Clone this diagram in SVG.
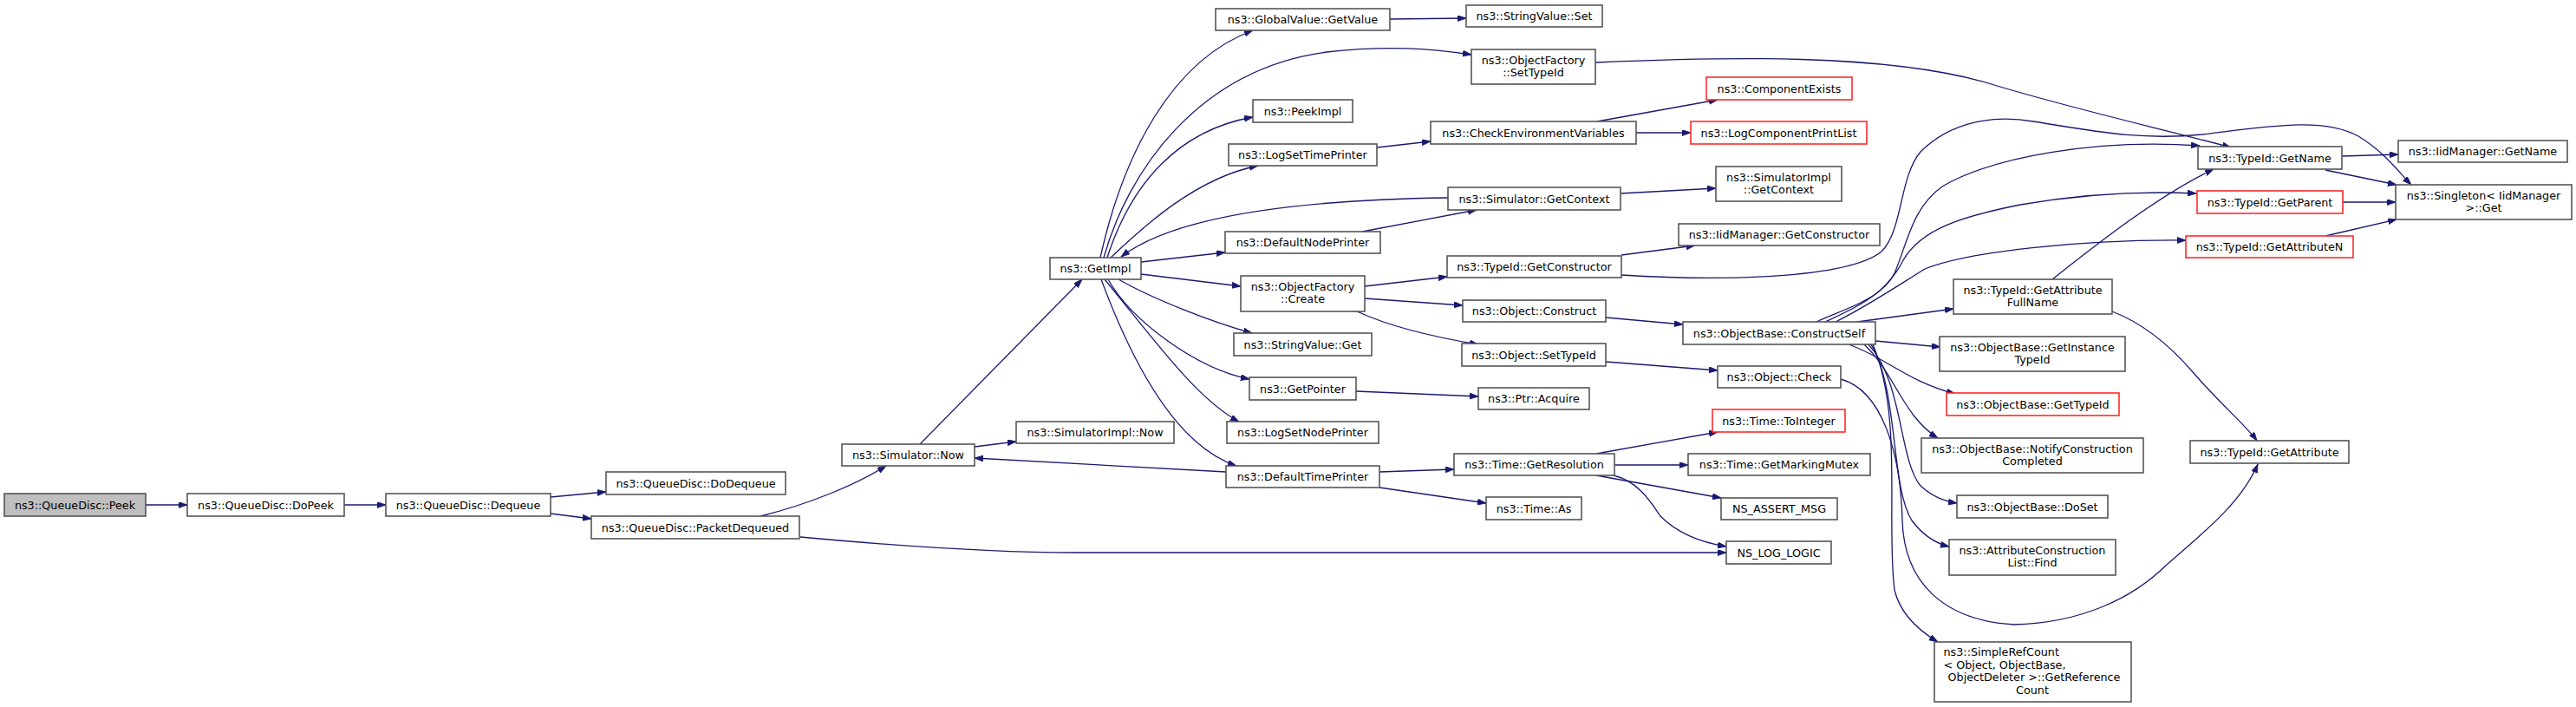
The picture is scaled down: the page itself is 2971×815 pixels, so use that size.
<svg xmlns="http://www.w3.org/2000/svg" width="2971" height="815" viewBox="0 0 2971 815">
<style>
.n rect{fill:#fff;stroke:#555;stroke-width:1.6}
.n.r rect{stroke:#ff2a2a}
.n.root rect{fill:#bfbfbf}
.n text{font-family:"DejaVu Sans",sans-serif;font-size:12.75px;fill:#000;text-anchor:middle}
.n text.l{text-anchor:start}
#edges path{fill:none;stroke:#191970;stroke-width:1.3;marker-end:url(#ah)}
</style>
<defs>
<marker id="ah" markerUnits="userSpaceOnUse" markerWidth="11" markerHeight="8" refX="10" refY="3.5" orient="auto">
<path d="M0,0 L10,3.5 L0,7 Z" fill="#191970" stroke="#191970" stroke-width="0.8"/>
</marker>
</defs>
<rect width="2971" height="815" fill="#fff"/>
<g id="edges">
<path d="M168,582 L216,582"/>
<path d="M397,582 L445,582"/>
<path d="M635,573 L699,567"/>
<path d="M635,592 L682,598"/>
<path d="M877,595 C930,582 985,560 1022,537"/>
<path d="M923,619 C1030,629 1140,637 1240,637 L1991,637"/>
<path d="M1124,515 L1172,509"/>
<path d="M1061,512 L1248,322"/>
<path d="M1414,544 L1124,528"/>
<path d="M1269,297 C1295,180 1350,70 1445,35"/>
<path d="M1603,22 L1691,21"/>
<path d="M1273,297 C1300,200 1380,80 1530,60 C1600,52 1650,56 1697,63"/>
<path d="M1277,297 C1305,210 1360,150 1445,135"/>
<path d="M1281,297 C1320,260 1380,205 1451,191"/>
<path d="M1670,228 C1520,230 1360,245 1293,296"/>
<path d="M1571,267 L1703,242"/>
<path d="M1316,302 L1413,291"/>
<path d="M1316,316 L1431,330"/>
<path d="M1290,322 C1330,345 1400,372 1444,384"/>
<path d="M1278,322 C1305,370 1380,425 1441,437"/>
<path d="M1274,322 C1330,390 1380,460 1429,486"/>
<path d="M1270,322 C1310,430 1360,515 1426,537"/>
<path d="M1588,170 L1650,163"/>
<path d="M1842,140 L1981,115"/>
<path d="M1887,153 L1950,153"/>
<path d="M1869,223 L1979,217"/>
<path d="M1574,330 L1669,319"/>
<path d="M1574,344 L1687,352"/>
<path d="M1565,359 C1600,375 1650,388 1705,397"/>
<path d="M1564,451 L1705,457"/>
<path d="M1591,544 L1677,541"/>
<path d="M1591,562 L1714,580"/>
<path d="M1840,72 C1980,66 2180,60 2300,98 C2400,128 2500,150 2573,170"/>
<path d="M1870,294 L1955,283"/>
<path d="M1870,317 C1980,324 2130,322 2170,290 C2195,265 2190,205 2215,175 C2250,140 2300,132 2345,140 C2420,152 2470,162 2540,155 C2620,145 2680,135 2720,157 C2750,175 2768,200 2781,213"/>
<path d="M2095,371 C2130,355 2170,345 2185,315 C2200,280 2205,240 2240,215 C2300,180 2420,160 2537,168"/>
<path d="M2105,371 C2140,355 2175,340 2195,300 C2215,265 2260,250 2330,236 C2400,224 2470,220 2533,223"/>
<path d="M2117,371 C2150,355 2180,335 2220,310 C2270,290 2400,276 2521,277"/>
<path d="M2142,371 L2253,356"/>
<path d="M2163,393 L2238,400"/>
<path d="M2132,397 C2175,412 2200,440 2255,454"/>
<path d="M2150,397 C2185,430 2195,480 2235,505"/>
<path d="M2155,397 C2195,440 2190,530 2215,560 C2228,572 2243,578 2257,580"/>
<path d="M2158,397 C2190,450 2180,560 2205,600 C2220,620 2235,627 2248,630"/>
<path d="M2160,397 C2195,480 2175,600 2185,680 C2192,710 2215,728 2235,740"/>
<path d="M2123,437 C2170,450 2192,520 2194,600 C2196,670 2240,715 2323,720 C2400,718 2460,690 2500,650 C2540,615 2585,580 2604,535"/>
<path d="M2436,359 C2470,372 2500,395 2530,430 C2560,465 2590,490 2603,508"/>
<path d="M2367,322 C2420,280 2490,225 2553,195"/>
<path d="M2701,180 L2766,178"/>
<path d="M2682,196 L2764,213"/>
<path d="M2702,233 L2763,233"/>
<path d="M2682,272 L2764,253"/>
<path d="M1852,366 L1941,374"/>
<path d="M1852,417 L1981,427"/>
<path d="M1841,523 L1981,498"/>
<path d="M1862,536 L1947,536"/>
<path d="M1841,548 L1985,574"/>
<path d="M1861,548 C1890,555 1905,580 1915,595 C1935,615 1960,625 1991,630"/>
</g>
<g id="n1" class="n root"><rect x="5" y="569" width="163" height="26"/><text x="86.5" y="586.5">ns3::QueueDisc::Peek</text></g>
<g id="n2" class="n"><rect x="216" y="569" width="181" height="26"/><text x="306.5" y="586.5">ns3::QueueDisc::DoPeek</text></g>
<g id="n3" class="n"><rect x="445" y="569" width="190" height="26"/><text x="540" y="586.5">ns3::QueueDisc::Dequeue</text></g>
<g id="n4" class="n"><rect x="699" y="544" width="207" height="26"/><text x="802.5" y="561.5">ns3::QueueDisc::DoDequeue</text></g>
<g id="n5" class="n"><rect x="682" y="595" width="240" height="26"/><text x="802" y="612.5">ns3::QueueDisc::PacketDequeued</text></g>
<g id="n6" class="n"><rect x="971" y="512" width="153" height="25"/><text x="1047.5" y="529">ns3::Simulator::Now</text></g>
<g id="n7" class="n"><rect x="1172" y="486" width="182" height="25"/><text x="1263" y="503">ns3::SimulatorImpl::Now</text></g>
<g id="n8" class="n"><rect x="1211" y="297" width="105" height="25"/><text x="1263.5" y="314">ns3::GetImpl</text></g>
<g id="n9" class="n"><rect x="1402" y="10" width="201" height="25"/><text x="1502.5" y="27">ns3::GlobalValue::GetValue</text></g>
<g id="n10" class="n"><rect x="1697" y="57" width="143" height="40"/><text x="1768.5" y="74">ns3::ObjectFactory</text><text x="1768.5" y="88">::SetTypeId</text></g>
<g id="n11" class="n"><rect x="1445" y="115" width="115" height="26"/><text x="1502.5" y="132.5">ns3::PeekImpl</text></g>
<g id="n12" class="n"><rect x="1417" y="166" width="171" height="25"/><text x="1502.5" y="183">ns3::LogSetTimePrinter</text></g>
<g id="n13" class="n"><rect x="1670" y="216" width="199" height="26"/><text x="1769.5" y="233.5">ns3::Simulator::GetContext</text></g>
<g id="n14" class="n"><rect x="1413" y="267" width="179" height="25"/><text x="1502.5" y="284">ns3::DefaultNodePrinter</text></g>
<g id="n15" class="n"><rect x="1431" y="318" width="143" height="41"/><text x="1502.5" y="335">ns3::ObjectFactory</text><text x="1502.5" y="349">::Create</text></g>
<g id="n16" class="n"><rect x="1423" y="384" width="159" height="26"/><text x="1502.5" y="401.5">ns3::StringValue::Get</text></g>
<g id="n17" class="n"><rect x="1441" y="435" width="123" height="26"/><text x="1502.5" y="452.5">ns3::GetPointer</text></g>
<g id="n18" class="n"><rect x="1415" y="486" width="175" height="25"/><text x="1502.5" y="503">ns3::LogSetNodePrinter</text></g>
<g id="n19" class="n"><rect x="1414" y="537" width="177" height="25"/><text x="1502.5" y="554">ns3::DefaultTimePrinter</text></g>
<g id="n20" class="n"><rect x="1691" y="6" width="157" height="25"/><text x="1769.5" y="23">ns3::StringValue::Set</text></g>
<g id="n21" class="n"><rect x="1650" y="140" width="237" height="26"/><text x="1768.5" y="157.5">ns3::CheckEnvironmentVariables</text></g>
<g id="n22" class="n r"><rect x="1968" y="89" width="168" height="26"/><text x="2052" y="106.5">ns3::ComponentExists</text></g>
<g id="n23" class="n r"><rect x="1950" y="140" width="203" height="26"/><text x="2051.5" y="157.5">ns3::LogComponentPrintList</text></g>
<g id="n24" class="n"><rect x="1979" y="192" width="145" height="40"/><text x="2051.5" y="209">ns3::SimulatorImpl</text><text x="2051.5" y="223">::GetContext</text></g>
<g id="n25" class="n"><rect x="1669" y="295" width="201" height="25"/><text x="1769.5" y="312">ns3::TypeId::GetConstructor</text></g>
<g id="n26" class="n"><rect x="1936" y="258" width="232" height="25"/><text x="2052" y="275">ns3::IidManager::GetConstructor</text></g>
<g id="n27" class="n"><rect x="1687" y="346" width="165" height="25"/><text x="1769.5" y="363">ns3::Object::Construct</text></g>
<g id="n28" class="n"><rect x="1686" y="396" width="166" height="26"/><text x="1769" y="413.5">ns3::Object::SetTypeId</text></g>
<g id="n29" class="n"><rect x="1705" y="447" width="128" height="25"/><text x="1769" y="464">ns3::Ptr::Acquire</text></g>
<g id="n30" class="n"><rect x="1677" y="523" width="185" height="25"/><text x="1769.5" y="540">ns3::Time::GetResolution</text></g>
<g id="n31" class="n"><rect x="1714" y="573" width="110" height="26"/><text x="1769" y="590.5">ns3::Time::As</text></g>
<g id="n32" class="n"><rect x="1941" y="371" width="222" height="26"/><text x="2052" y="388.5">ns3::ObjectBase::ConstructSelf</text></g>
<g id="n33" class="n"><rect x="1981" y="422" width="142" height="25"/><text x="2052" y="439">ns3::Object::Check</text></g>
<g id="n34" class="n r"><rect x="1975" y="472" width="153" height="26"/><text x="2051.5" y="489.5">ns3::Time::ToInteger</text></g>
<g id="n35" class="n"><rect x="1947" y="523" width="210" height="25"/><text x="2052" y="540">ns3::Time::GetMarkingMutex</text></g>
<g id="n36" class="n"><rect x="1985" y="574" width="134" height="25"/><text x="2052" y="591">NS_ASSERT_MSG</text></g>
<g id="n37" class="n"><rect x="1991" y="624" width="121" height="26"/><text x="2051.5" y="641.5">NS_LOG_LOGIC</text></g>
<g id="n38" class="n"><rect x="2535" y="169" width="166" height="26"/><text x="2618" y="186.5">ns3::TypeId::GetName</text></g>
<g id="n39" class="n"><rect x="2766" y="162" width="195" height="25"/><text x="2863.5" y="179">ns3::IidManager::GetName</text></g>
<g id="n40" class="n"><rect x="2763" y="213" width="203" height="40"/><text x="2864.5" y="230">ns3::Singleton&lt; IidManager</text><text x="2864.5" y="244">&gt;::Get</text></g>
<g id="n41" class="n r"><rect x="2534" y="220" width="168" height="26"/><text x="2618" y="237.5">ns3::TypeId::GetParent</text></g>
<g id="n42" class="n r"><rect x="2521" y="272" width="193" height="25"/><text x="2617.5" y="289">ns3::TypeId::GetAttributeN</text></g>
<g id="n43" class="n"><rect x="2253" y="322" width="183" height="40"/><text x="2344.5" y="339">ns3::TypeId::GetAttribute</text><text x="2344.5" y="353">FullName</text></g>
<g id="n44" class="n"><rect x="2237" y="388" width="214" height="40"/><text x="2344" y="405">ns3::ObjectBase::GetInstance</text><text x="2344" y="419">TypeId</text></g>
<g id="n45" class="n r"><rect x="2245" y="453" width="199" height="26"/><text x="2344.5" y="470.5">ns3::ObjectBase::GetTypeId</text></g>
<g id="n46" class="n"><rect x="2216" y="505" width="256" height="40"/><text x="2344" y="522">ns3::ObjectBase::NotifyConstruction</text><text x="2344" y="536">Completed</text></g>
<g id="n47" class="n"><rect x="2526" y="508" width="183" height="26"/><text x="2617.5" y="525.5">ns3::TypeId::GetAttribute</text></g>
<g id="n48" class="n"><rect x="2257" y="571" width="174" height="26"/><text x="2344" y="588.5">ns3::ObjectBase::DoSet</text></g>
<g id="n49" class="n"><rect x="2248" y="622" width="192" height="41"/><text x="2344" y="639">ns3::AttributeConstruction</text><text x="2344" y="653">List::Find</text></g>
<g id="n50" class="n"><rect x="2231" y="740" width="227" height="69"/><text class="l" x="2241.5" y="756">ns3::SimpleRefCount</text><text class="l" x="2241.5" y="770.5">&lt; Object, ObjectBase,</text><text x="2346" y="785">ObjectDeleter &gt;::GetReference</text><text x="2344" y="799.5">Count</text></g>
</svg>
